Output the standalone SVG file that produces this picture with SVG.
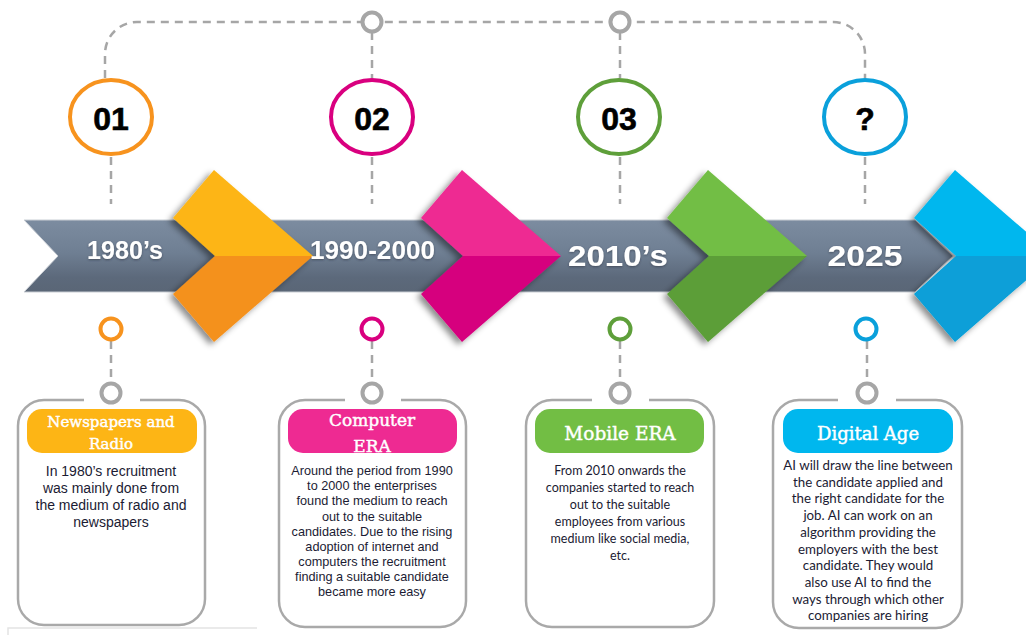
<svg xmlns="http://www.w3.org/2000/svg" width="1026" height="635" viewBox="0 0 1026 635">
<defs>
<linearGradient id="bandGrad" x1="0" y1="0" x2="0" y2="1">
<stop offset="0" stop-color="#7c8ca0"/>
<stop offset="0.45" stop-color="#6f7f93"/>
<stop offset="0.8" stop-color="#5c697b"/>
<stop offset="1" stop-color="#5a6676"/>
</linearGradient>
<filter id="shadow" x="-20%" y="-20%" width="140%" height="140%">
<feDropShadow dx="-4" dy="3" stdDeviation="3" flood-color="#000" flood-opacity="0.45"/>
</filter>
<filter id="tshadow" x="-10%" y="-20%" width="120%" height="140%">
<feDropShadow dx="0" dy="1" stdDeviation="1" flood-color="#2a3340" flood-opacity="0.6"/>
</filter>
<style>
.dash{fill:none;stroke:#a6a6a6;stroke-width:2.5;stroke-dasharray:8 6}
.gring{fill:#fff;stroke:#a6a6a6;stroke-width:4}
.card{fill:#fff;stroke:#a9a9a9;stroke-width:2.5}
.num{font-family:"Liberation Sans",Arial,sans-serif;font-weight:bold;font-size:32px;fill:#000;stroke:#000;stroke-width:0.6;text-anchor:middle}
.yr{font-family:"Liberation Sans",Arial,sans-serif;font-weight:bold;fill:#fff;text-anchor:middle}
.ttl{font-family:"DejaVu Serif",serif;fill:#fff;stroke:#fff;stroke-width:0.45;text-anchor:middle}
.b1{font-family:"Liberation Sans",Arial,sans-serif;font-size:14px;fill:#1b1b33;text-anchor:middle}
.b2{font-family:"Liberation Sans",Arial,sans-serif;font-size:12.7px;fill:#1b1b33;text-anchor:middle}
.b3{font-family:Lato,"Open Sans",sans-serif;font-size:12.5px;fill:#1b1b33;text-anchor:middle}
.b4{font-family:Lato,"Open Sans",sans-serif;font-size:13.3px;fill:#1b1b33;text-anchor:middle}
</style>
</defs>
<rect width="1026" height="635" fill="#fff"/>
<path d="M8,635 V628 H257" fill="none" stroke="#e4e4e4" stroke-width="1.5"/>

<!-- band -->
<polygon id="band" points="24,220 915,220 953,256 915,292 24,292 58,256" fill="url(#bandGrad)" stroke="#c9ced4" stroke-width="1"/>

<!-- connectors -->
<g id="connectors">
<path class="dash" d="M105,78 V54 A32,32 0 0 1 137,22 H833 A32,32 0 0 1 865,54 V78"/>
<path class="dash" d="M372,32 V78 M620,32 V78"/>
<circle class="gring" cx="372" cy="22" r="9.5"/>
<circle class="gring" cx="620" cy="22" r="9.5"/>
<path class="dash" d="M111,157 V204 M372,157 V204 M620,157 V204 M865,157 V204"/>
<path class="dash" d="M111,341 V382 M372,341 V382 M620,341 V382 M867,341 V382"/>
</g>

<!-- chevrons -->
<g id="chevrons" filter="url(#shadow)">
<g id="chev1"><polygon points="214,170 313,256 215,256 173,218" fill="#fdb515"/><polygon points="215,256 313,256 214,342 173,294" fill="#f4911e"/></g>
<g id="chev2"><polygon points="462,170 561,256 463,256 421,218" fill="#ee2a92"/><polygon points="463,256 561,256 462,342 421,294" fill="#d6007e"/></g>
<g id="chev3"><polygon points="708,170 807,256 709,256 667,218" fill="#72be44"/><polygon points="709,256 807,256 708,342 667,294" fill="#5b9e37"/></g>
<g id="chev4"><polygon points="955,170 1054,256 956,256 914,218" fill="#00b7ee"/><polygon points="956,256 1054,256 955,342 914,294" fill="#079fd8"/></g>
</g>

<!-- era 1 -->
<g id="era-1980s">
<ellipse cx="111" cy="117" rx="41" ry="37" fill="#fff" stroke="#f7931e" stroke-width="4"/>
<text class="num" x="111" y="130">01</text>
<text class="yr" x="125" y="259" font-size="25" textLength="76" lengthAdjust="spacingAndGlyphs" filter="url(#tshadow)">1980’s</text>
<circle cx="111" cy="329" r="10.5" fill="#fff" stroke="#f7931e" stroke-width="4"/>
<path class="card" d="M140,400 H179 A26,26 0 0 1 205,426 V599 A26,26 0 0 1 179,625 H44 A26,26 0 0 1 18,599 V426 A26,26 0 0 1 44,400 H84"/>
<circle class="gring" cx="111" cy="393" r="9.5"/>
<rect x="27" y="409" width="170" height="44" rx="15" fill="#fdb515"/>
<text class="ttl" font-size="15"><tspan x="111" y="427">Newspapers and</tspan><tspan x="111" y="449">Radio</tspan></text>
<text class="b1"><tspan x="111" y="476">In 1980’s recruitment</tspan><tspan x="111" y="493">was mainly done from</tspan><tspan x="111" y="510">the medium of radio and</tspan><tspan x="111" y="527">newspapers</tspan></text>
</g>

<!-- era 2 -->
<g id="era-1990-2000">
<ellipse cx="372" cy="117" rx="41" ry="37" fill="#fff" stroke="#d9007f" stroke-width="4"/>
<text class="num" x="372" y="130">02</text>
<text class="yr" x="372.5" y="259" font-size="25" textLength="125" lengthAdjust="spacingAndGlyphs" filter="url(#tshadow)">1990-2000</text>
<circle cx="372" cy="329" r="10.5" fill="#fff" stroke="#d9007f" stroke-width="4"/>
<path class="card" d="M401,400 H440 A26,26 0 0 1 466,426 V601 A26,26 0 0 1 440,627 H305 A26,26 0 0 1 279,601 V426 A26,26 0 0 1 305,400 H345"/>
<circle class="gring" cx="372" cy="393" r="9.5"/>
<rect x="288" y="409" width="169" height="44" rx="15" fill="#ee2a92"/>
<text class="ttl" font-size="17"><tspan x="372" y="426">Computer</tspan><tspan x="372" y="452">ERA</tspan></text>
<text class="b2"><tspan x="372" y="475">Around the period from 1990</tspan><tspan x="372" y="490">to 2000 the enterprises</tspan><tspan x="372" y="505">found the medium to reach</tspan><tspan x="372" y="520.5">out to the suitable</tspan><tspan x="372" y="535.5">candidates. Due to the rising</tspan><tspan x="372" y="550.5">adoption of internet and</tspan><tspan x="372" y="565.5">computers the recruitment</tspan><tspan x="372" y="580.5">finding a suitable candidate</tspan><tspan x="372" y="595.5">became more easy</tspan></text>
</g>

<!-- era 3 -->
<g id="era-2010s">
<ellipse cx="619" cy="117" rx="41" ry="37" fill="#fff" stroke="#5e9f3a" stroke-width="4"/>
<text class="num" x="619" y="130">03</text>
<text class="yr" x="618" y="266" font-size="29" textLength="100" lengthAdjust="spacingAndGlyphs" filter="url(#tshadow)">2010’s</text>
<circle cx="620" cy="329" r="10.5" fill="#fff" stroke="#5e9f3a" stroke-width="4"/>
<path class="card" d="M649,400 H688 A26,26 0 0 1 714,426 V601 A26,26 0 0 1 688,627 H552 A26,26 0 0 1 526,601 V426 A26,26 0 0 1 552,400 H592"/>
<circle class="gring" cx="620" cy="393" r="9.5"/>
<rect x="535" y="409" width="169" height="44" rx="15" fill="#72be44"/>
<text class="ttl" font-size="18.5" x="620" y="440">Mobile ERA</text>
<text class="b3"><tspan x="620" y="475">From 2010 onwards the</tspan><tspan x="620" y="492">companies started to reach</tspan><tspan x="620" y="509">out to the suitable</tspan><tspan x="620" y="526">employees from various</tspan><tspan x="620" y="543">medium like social media,</tspan><tspan x="620" y="560">etc.</tspan></text>
</g>

<!-- era 4 -->
<g id="era-2025">
<ellipse cx="865" cy="117" rx="41" ry="37" fill="#fff" stroke="#0aa0db" stroke-width="4"/>
<text class="num" x="865" y="130">?</text>
<text class="yr" x="865" y="266" font-size="29" textLength="75" lengthAdjust="spacingAndGlyphs" filter="url(#tshadow)">2025</text>
<circle cx="866" cy="329" r="10.5" fill="#fff" stroke="#0aa0db" stroke-width="4"/>
<path class="card" d="M896,400 H936 A26,26 0 0 1 962,426 V602 A26,26 0 0 1 936,628 H799 A26,26 0 0 1 773,602 V426 A26,26 0 0 1 799,400 H838"/>
<circle class="gring" cx="867" cy="393" r="9.5"/>
<rect x="783" y="409" width="170" height="44" rx="15" fill="#00b7ee"/>
<text class="ttl" font-size="18" x="868" y="440">Digital Age</text>
<text class="b4"><tspan x="868" y="470">AI will draw the line between</tspan><tspan x="868" y="486.7">the candidate applied and</tspan><tspan x="868" y="503.4">the right candidate for the</tspan><tspan x="868" y="520.1">job. AI can work on an</tspan><tspan x="868" y="536.8">algorithm providing the</tspan><tspan x="868" y="553.5">employers with the best</tspan><tspan x="868" y="570.2">candidate. They would</tspan><tspan x="868" y="586.9">also use AI to find the</tspan><tspan x="868" y="603.6">ways through which other</tspan><tspan x="868" y="620.3">companies are hiring</tspan></text>
</g>
</svg>
